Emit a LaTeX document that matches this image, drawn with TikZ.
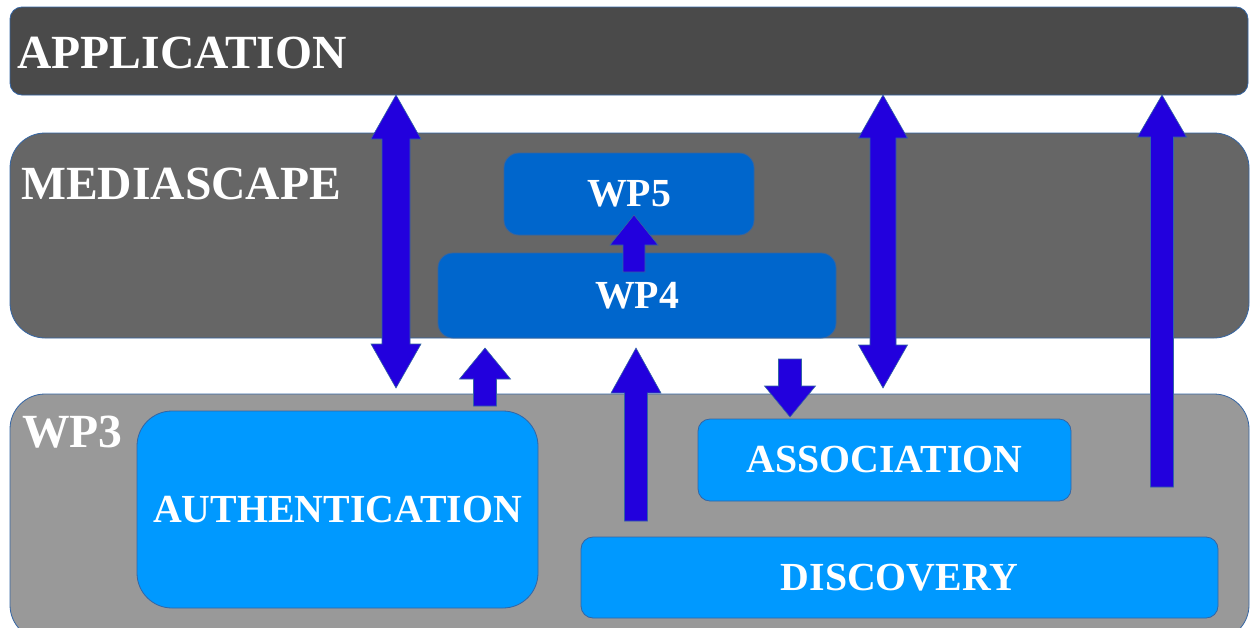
\documentclass[tikz,border=0pt]{standalone}
\usepackage{fontspec}
\setmainfont{Liberation Serif}
\usetikzlibrary{calc}
\definecolor{appgray}{HTML}{4A4A4A}
\definecolor{medgray}{HTML}{666666}
\definecolor{wpgray}{HTML}{999999}
\definecolor{darkbox}{HTML}{0066CC}
\definecolor{lightbox}{HTML}{0099FF}
\definecolor{arrowfill}{HTML}{2200DD}
\definecolor{edgeblue}{HTML}{3465A4}
\tikzset{
  box/.style={draw=edgeblue, line width=0.8pt, inner sep=0pt, text=white,
    font=\bfseries\fontsize{39.8}{40}\selectfont},
  layerlabel/.style={anchor=base west, inner sep=0pt, text=white,
    font=\bfseries\fontsize{47.6}{48}\selectfont},
  blockarrow/.style n args={3}{draw=edgeblue, fill=arrowfill, line width=0.6pt,
    line join=miter,
    to path={
      ($(\tikztostart)!#2!90:(\tikztotarget)$)
      -- ($(\tikztotarget)!#1!(\tikztostart)!#2!-90:(\tikztostart)$)
      -- ($(\tikztotarget)!#1!(\tikztostart)!#3!-90:(\tikztostart)$)
      -- (\tikztotarget)
      -- ($(\tikztotarget)!#1!(\tikztostart)!#3!90:(\tikztostart)$)
      -- ($(\tikztotarget)!#1!(\tikztostart)!#2!90:(\tikztostart)$)
      -- ($(\tikztostart)!#2!-90:(\tikztotarget)$)
      -- cycle}},
  dblarrow/.style n args={3}{draw=edgeblue, fill=arrowfill, line width=0.6pt,
    line join=miter,
    to path={
      (\tikztostart)
      -- ($(\tikztostart)!#1!(\tikztotarget)!#3!90:(\tikztotarget)$)
      -- ($(\tikztostart)!#1!(\tikztotarget)!#2!90:(\tikztotarget)$)
      -- ($(\tikztotarget)!#1!(\tikztostart)!#2!-90:(\tikztostart)$)
      -- ($(\tikztotarget)!#1!(\tikztostart)!#3!-90:(\tikztostart)$)
      -- (\tikztotarget)
      -- ($(\tikztotarget)!#1!(\tikztostart)!#3!90:(\tikztostart)$)
      -- ($(\tikztotarget)!#1!(\tikztostart)!#2!90:(\tikztostart)$)
      -- ($(\tikztostart)!#1!(\tikztotarget)!#2!-90:(\tikztotarget)$)
      -- ($(\tikztostart)!#1!(\tikztotarget)!#3!-90:(\tikztotarget)$)
      -- cycle}}
}
\begin{document}
\begin{tikzpicture}[x=1pt,y=-1pt]
\useasboundingbox (0,0) rectangle (1250,627);
\clip (0,0) rectangle (1250,627);
% layers
\node[box, fill=appgray, rounded corners=12pt, minimum width=1238pt, minimum height=88pt] (app) at (629,51) {};
\node[box, fill=medgray, rounded corners=35pt, minimum width=1239pt, minimum height=205pt] (med) at (629.5,235.5) {};
\node[box, fill=wpgray, rounded corners=35pt, minimum width=1239pt, minimum height=246pt] (wp3) at (629.5,517) {};
\node[layerlabel] (applabel) at (17,68) {APPLICATION};
\node[layerlabel] (medlabel) at (21,199) {MEDIASCAPE};
\node[layerlabel] (wp3label) at (22,447) {WP3};
% inner boxes
\node[box, fill=darkbox, rounded corners=15pt, minimum width=250pt, minimum height=82pt] (wp5) at (629,194) {WP5};
\node[box, fill=darkbox, rounded corners=15pt, minimum width=398pt, minimum height=85pt] (wp4) at (637,295.5) {WP4};
\node[box, fill=lightbox, rounded corners=35pt, minimum width=401pt, minimum height=197pt] (auth) at (337.5,509.5) {AUTHENTICATION};
\node[box, fill=lightbox, rounded corners=12pt, minimum width=373pt, minimum height=82pt] (assoc) at (884.5,460) {ASSOCIATION};
\node[box, fill=lightbox, rounded corners=12pt, minimum width=637pt, minimum height=81pt] (disc) at (899.5,577.5) {DISCOVERY};
% arrow end points
\coordinate (a1t) at (396,95);   \coordinate (a1b) at (396,388);
\coordinate (a2s) at (485,406);  \coordinate (a2e) at (485,348);
\coordinate (a3s) at (634,272);  \coordinate (a3e) at (634,215);
\coordinate (a4s) at (636,521);  \coordinate (a4e) at (636,348);
\coordinate (a5s) at (790,359);  \coordinate (a5e) at (790,417);
\coordinate (a6t) at (883,95);   \coordinate (a6b) at (883,388);
\coordinate (a7s) at (1162,487); \coordinate (a7e) at (1162,95);
% arrows
\draw[dblarrow={44pt}{14pt}{25pt}] (a1t) to (a1b);
\draw[blockarrow={31pt}{11.5pt}{25.5pt}] (a2s) to (a2e);
\draw[blockarrow={30pt}{11pt}{24pt}] (a3s) to (a3e);
\draw[blockarrow={45pt}{11.5pt}{25pt}] (a4s) to (a4e);
\draw[blockarrow={31pt}{11.5pt}{25.5pt}] (a5s) to (a5e);
\draw[dblarrow={43pt}{13pt}{24.5pt}] (a6t) to (a6b);
\draw[blockarrow={42pt}{11.5pt}{24.5pt}] (a7s) to (a7e);
\end{tikzpicture}
\end{document}
